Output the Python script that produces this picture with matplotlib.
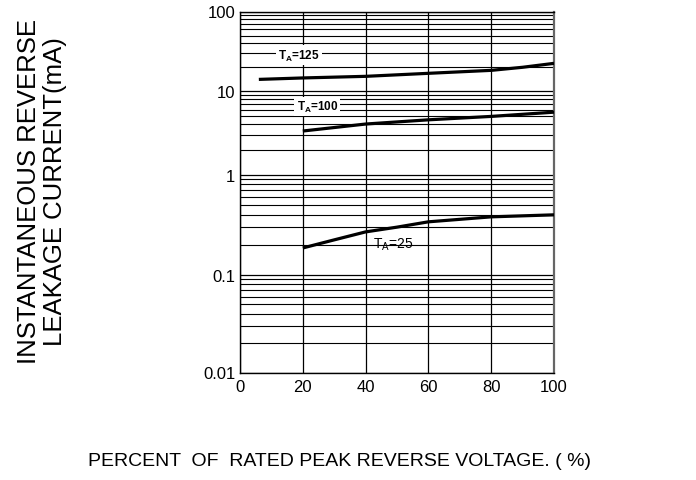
import numpy as np
import matplotlib
matplotlib.use("Agg")
import matplotlib.pyplot as plt
from matplotlib.ticker import FixedLocator, FixedFormatter, NullFormatter

plt.rcParams['font.family'] = ['Liberation Sans', 'DejaVu Sans']
plt.rcParams['mathtext.fontset'] = 'custom'
plt.rcParams['mathtext.rm'] = 'Liberation Sans'
plt.rcParams['mathtext.bf'] = 'Liberation Sans:bold'

# ---- data ----
x_125 = [6, 20, 40, 60, 80, 90, 100]
y_125 = [14.1, 14.7, 15.4, 16.8, 18.3, 20.0, 22.4]

x_100 = [20, 40, 60, 80, 100]
y_100 = [3.34, 4.05, 4.55, 5.0, 5.62]

x_25 = [20, 30, 40, 50, 60, 80, 100]
y_25 = [0.186, 0.224, 0.269, 0.30, 0.339, 0.380, 0.398]

x_ticks = [0, 20, 40, 60, 80, 100]
y_ticks = [0.01, 0.1, 1, 10, 100]
y_tick_labels = ["0.01", "0.1", "1", "10", "100"]

# the printed chart's decades are not equally tall; reproduce that grid
dec_log = [-2, -1, 0, 1, 2]
dec_pos = [0.0, 97.5, 197.8, 281.2, 361.0]


def fwd(v):
    v = np.asarray(v, dtype=float)
    lv = np.log10(np.clip(v, 1e-12, None))
    return np.interp(lv, dec_log, dec_pos, left=-1e3, right=1e3 + 361)


def inv(p):
    p = np.asarray(p, dtype=float)
    return 10 ** np.interp(p, dec_pos, dec_log)


fig = plt.figure(figsize=(6.96, 4.81), dpi=100)
ax = fig.add_axes([240 / 696, (481 - 373.5) / 481, 314 / 696, 361 / 481])
ax.set_yscale('function', functions=(fwd, inv))
ax.set_xlim(0, 100)
ax.set_ylim(0.01, 100)

minor = [m * 10.0 ** e for e in range(-2, 2) for m in range(2, 10)]
ax.yaxis.set_major_locator(FixedLocator(y_ticks))
ax.yaxis.set_major_formatter(FixedFormatter(y_tick_labels))
ax.yaxis.set_minor_locator(FixedLocator(minor))
ax.yaxis.set_minor_formatter(NullFormatter())
ax.xaxis.set_major_locator(FixedLocator(x_ticks))
ax.xaxis.set_minor_locator(FixedLocator([]))

ax.grid(True, which='major', axis='both', color='black', lw=0.9)
ax.grid(True, which='minor', axis='y', color='black', lw=0.8)
ax.tick_params(which='both', length=0, labelsize=12, colors='black')
ax.tick_params(axis='y', pad=3.5)
ax.tick_params(axis='x', pad=5)
for s in ax.spines.values():
    s.set_color('black')
    s.set_linewidth(1.0)
ax.spines['right'].set_color('#666666')
ax.spines['right'].set_linewidth(1.6)

ax.plot(x_125, y_125, color='black', lw=2.3, solid_capstyle='butt', zorder=5)
ax.plot(x_100, y_100, color='black', lw=2.3, solid_capstyle='butt', zorder=5)
ax.plot(x_25, y_25, color='black', lw=2.3, solid_capstyle='butt', zorder=5)

box = dict(facecolor='white', edgecolor='none', pad=1.5)
ax.text(12, 28.5, r"T$_{\mathbf{A}}$=125", fontsize=8.5, fontweight='bold',
        ha='left', va='center', bbox=box, zorder=4)
ax.text(18, 6.6, r"T$_{\mathbf{A}}$=100", fontsize=8.5, fontweight='bold',
        ha='left', va='center', bbox=box, zorder=4)
ax.text(42.5, 0.205, r"T$_{\mathrm{A}}$=25", fontsize=10, ha='left', va='center',
        zorder=6)

fig.text(42 / 696, 1 - 192 / 481, "INSTANTANEOUS REVERSE\nLEAKAGE CURRENT(mA)",
         rotation=90, ha='center', va='center', multialignment='center',
         fontsize=18.5, linespacing=1.15)
fig.text(340 / 696, 1 - 462 / 481, "PERCENT  OF  RATED PEAK REVERSE VOLTAGE. ( %)",
         ha='center', va='center', fontsize=14)

fig.savefig("out.png", dpi=100)
